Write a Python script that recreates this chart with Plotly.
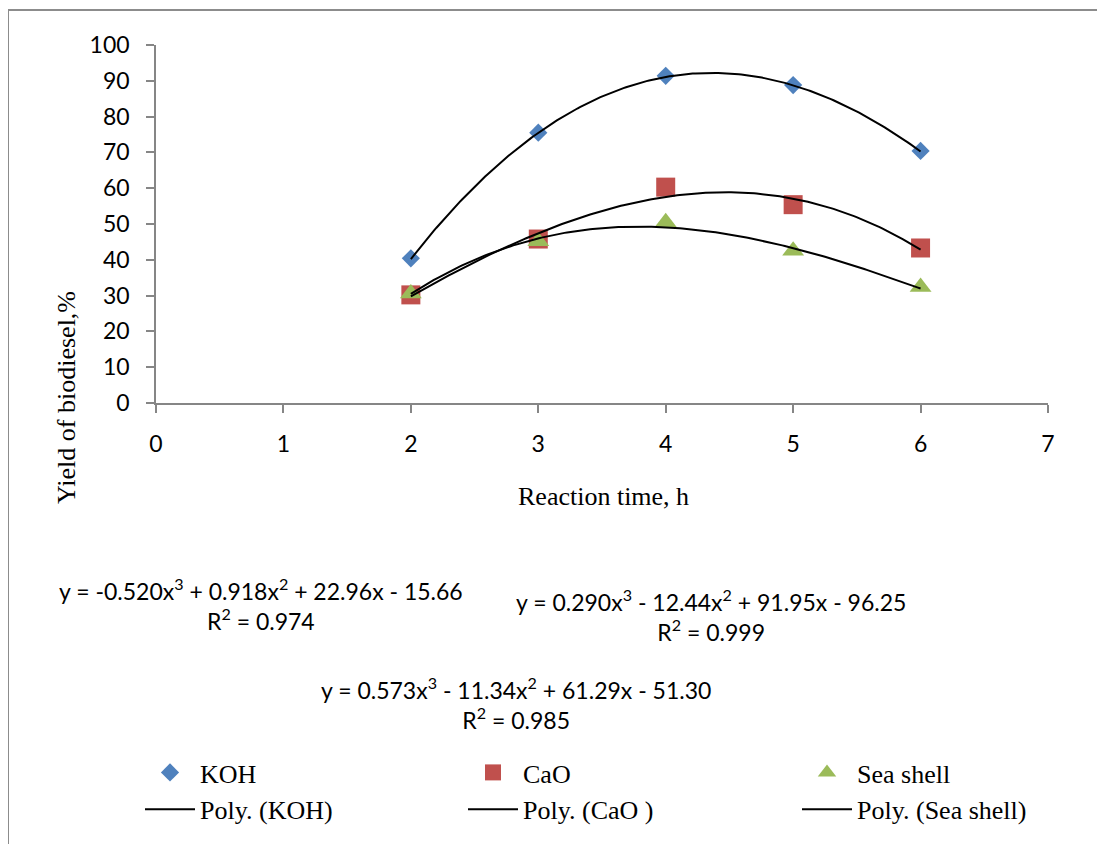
import numpy as np
import plotly.graph_objects as go

# ---- data ----
reaction_time = [2, 3, 4, 5, 6]
koh = [40.4, 75.5, 91.4, 88.8, 70.4]
cao = [30.2, 45.8, 60.3, 55.4, 43.3]
sea_shell = [30.6, 45.2, 50.5, 42.5, 32.4]

# trendline coefficients as printed on the chart (highest power first)
coef_koh = [0.290, -12.44, 91.95, -96.25]
coef_cao = [-0.520, 0.918, 22.96, -15.66]
coef_sea = [0.573, -11.34, 61.29, -51.30]

eq_koh = "y = 0.290x<sup>3</sup> - 12.44x<sup>2</sup> + 91.95x - 96.25<br>R<sup>2</sup> = 0.999"
eq_cao = "y = -0.520x<sup>3</sup> + 0.918x<sup>2</sup> + 22.96x - 15.66<br>R<sup>2</sup> = 0.974"
eq_sea = "y = 0.573x<sup>3</sup> - 11.34x<sup>2</sup> + 61.29x - 51.30<br>R<sup>2</sup> = 0.985"

x_ticks = [0, 1, 2, 3, 4, 5, 6, 7]
y_ticks = [0, 10, 20, 30, 40, 50, 60, 70, 80, 90, 100]

# ---- figure ----
W, H = 1105, 844
OFF = 8  # page body margin
L, T = 156 - OFF, 45 - OFF
pw, ph = 892, 358
R, B = W - L - pw, H - T - ph


def px_to_paper(px, py):
    # px, py are picture pixel positions
    return (px - OFF - L) / pw, (T + ph - (py - OFF)) / ph


serif = "Liberation Serif, Times New Roman, serif"
sans = "Lato, Open Sans, sans-serif"

fig = go.Figure()

fig.add_trace(go.Scatter(x=reaction_time, y=koh, mode="markers", name="KOH", legend="legend",
                         marker=dict(symbol="diamond", size=14, color="#4F81BD")))
fig.add_trace(go.Scatter(x=reaction_time, y=cao, mode="markers", name="CaO", legend="legend2",
                         marker=dict(symbol="square", size=19, color="#C0504D")))
fig.add_trace(go.Scatter(x=reaction_time, y=sea_shell, mode="markers", name="Sea shell",
                         legend="legend3",
                         marker=dict(symbol="triangle-up", size=19, color="#9BBB59")))

xs = np.linspace(min(reaction_time), max(reaction_time), 200)
for coef, name, lg in [(coef_koh, "Poly. (KOH)", "legend"), (coef_cao, "Poly. (CaO )", "legend2"),
                       (coef_sea, "Poly. (Sea shell)", "legend3")]:
    fig.add_trace(go.Scatter(x=xs, y=np.polyval(coef, xs), mode="lines", name=name, legend=lg,
                             line=dict(color="black", width=2)))

axis_common = dict(showgrid=False, zeroline=False, showline=True, linecolor="#868686",
                   linewidth=1.5, ticks="outside", tickcolor="#868686", ticklen=8,
                   tickwidth=1.5, automargin=False,
                   tickfont=dict(family=sans, size=23, color="black"))

fig.update_xaxes(range=[0, 7], tickvals=x_ticks, ticklabelstandoff=12, **axis_common)
fig.update_yaxes(range=[0, 100], tickvals=y_ticks, ticklabelstandoff=12, **axis_common)

annotations = []
# axis titles
ax, ay = px_to_paper(603, 496)
annotations.append(dict(text="Reaction time, h", x=ax, y=ay, xref="paper", yref="paper",
                        xanchor="center", yanchor="middle",
                        showarrow=False, font=dict(family=serif, size=26, color="black")))
ax, ay = px_to_paper(66, 398)
annotations.append(dict(text="Yield of biodiesel,%", x=ax, y=ay, xref="paper", yref="paper",
                        xanchor="center", yanchor="middle",
                        showarrow=False, textangle=-90,
                        font=dict(family=serif, size=26, color="black")))
# equations
for txt, (cx, cy) in [(eq_cao, (261, 604)), (eq_koh, (711, 615)), (eq_sea, (516, 703))]:
    ax, ay = px_to_paper(cx, cy)
    annotations.append(dict(text=txt, x=ax, y=ay, xref="paper", yref="paper",
                            xanchor="center", yanchor="middle",
                            showarrow=False, align="center",
                            font=dict(family=sans, size=23, color="black")))

legend_common = dict(orientation="v", xanchor="left", yanchor="top", itemwidth=50,
                     tracegroupgap=0,
                     font=dict(family=serif, size=26, color="black"),
                     bgcolor="rgba(0,0,0,0)")
legends = {}
for key, px in [("legend", 140), ("legend2", 463), ("legend3", 797)]:
    lx, ly = px_to_paper(px, 749)
    legends[key] = dict(x=lx, y=ly, **legend_common)

fig.update_layout(
    width=W, height=H,
    margin=dict(l=L, r=R, t=T, b=B, autoexpand=False),
    paper_bgcolor="white", plot_bgcolor="white",
    annotations=annotations,
    shapes=[dict(type="rect", xref="paper", yref="paper",
                 x0=px_to_paper(8, 0)[0], x1=px_to_paper(1300, 0)[0],
                 y0=px_to_paper(0, 1000)[1], y1=px_to_paper(0, 10)[1],
                 line=dict(color="#8C8C8C", width=2), layer="below")],
    **legends,
)

fig.write_html("out.html")
